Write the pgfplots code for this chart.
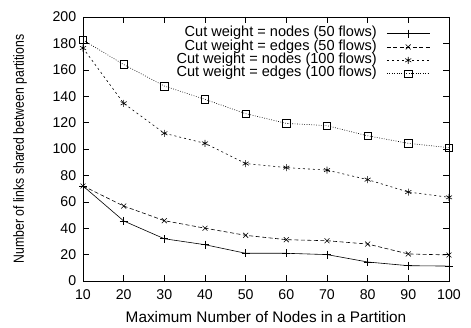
\documentclass[border=0pt]{standalone}
\usepackage{fontspec}
\setmainfont{Liberation Sans}
\newfontfamily\ylfont{Liberation Sans}
\usepackage{pgfplots}
\pgfplotsset{compat=1.18}
\begin{document}
\begin{tikzpicture}
\begin{axis}[
  at={(83bp,47bp)}, anchor=south west,
  width=366bp, height=264bp, scale only axis,
  xmin=10, xmax=100, ymin=0, ymax=200,
  xtick={10,20,...,100}, ytick={0,20,...,200},
  tick align=inside, major tick length=6bp,
  /pgf/number format/assume math mode=true,
  tick label style={font=\fontsize{14.2}{16}\selectfont},
  yticklabel style={xshift=-3.3bp},
  xticklabel style={yshift=-5.2bp},
  xlabel={Maximum Number of Nodes in a Partition},
  ylabel={\scalebox{1}[1.2]{Number of links shared between partitions}},
  xlabel style={font=\fontsize{15.4}{17}\selectfont, at={(axis description cs:0.5,-0.138)}, anchor=center},
  ylabel style={font=\ylfont\fontsize{12.3}{15}\selectfont, at={(axis description cs:-0.172,0.5)}, anchor=center},
  axis line style={line width=0.8pt},
  every tick/.style={line width=0.6pt, black},
  legend style={draw=none, fill=none, at={(rel axis cs:1,1)}, anchor=north east, xshift=-19bp, yshift=-9.7bp,
    inner sep=0pt, font=\fontsize{14.6}{16}\selectfont, row sep=0pt, column sep=10bp,
    nodes={inner sep=0pt, text height=9.9pt, text depth=3.5pt}},
  legend cell align=right,
  legend plot pos=right,
  legend image code/.code={\draw[mark repeat=2,mark phase=2,#1] plot coordinates {(0cm,0cm) (0.75cm,0cm) (1.5cm,0cm)};},
  every axis plot/.append style={black, line width=0.6pt},
]
\addplot[solid, mark=+, mark size=4pt, mark options={solid}] coordinates {
(10,72) (20,45.5) (30,32) (40,27.5) (50,21) (60,21) (70,20) (80,14.4) (90,11.6) (100,11.3)};
\addlegendentry{Cut weight = nodes (50 flows)}
\addplot[dash pattern=on 4pt off 2.5pt, mark=x, mark size=3.5pt, mark options={solid}] coordinates {
(10,72) (20,56.8) (30,45.7) (40,40) (50,34.6) (60,31.3) (70,30.5) (80,28) (90,20.5) (100,19.7)};
\addlegendentry{Cut weight = edges (50 flows)}
\addplot[dash pattern=on 2pt off 3pt, mark=asterisk, mark size=3.5pt, mark options={solid}] coordinates {
(10,176.5) (20,134.6) (30,111.9) (40,104.3) (50,89) (60,85.9) (70,84) (80,76.8) (90,67.4) (100,63.4)};
\addlegendentry{Cut weight = nodes (100 flows)}
\addplot[dash pattern=on 0.8pt off 1.6pt, mark=square, mark size=3.8pt, mark options={solid}] coordinates {
(10,182.6) (20,164) (30,147.7) (40,137.6) (50,126.8) (60,119.4) (70,117.7) (80,110) (90,104.3) (100,101)};
\addlegendentry{Cut weight = edges (100 flows)}
\end{axis}
\pgfresetboundingbox
\path[use as bounding box] (0,0) rectangle (471bp,328bp);
\end{tikzpicture}
\end{document}
